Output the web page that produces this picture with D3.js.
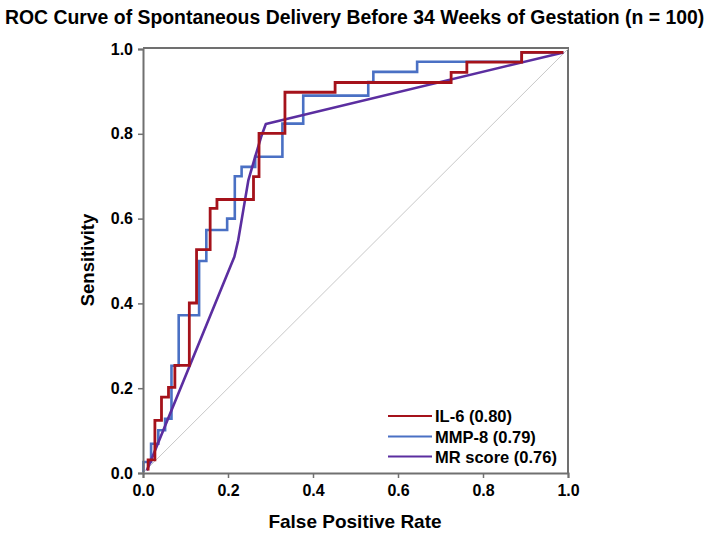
<!DOCTYPE html>
<html><head><meta charset="utf-8">
<script src="https://cdn.jsdelivr.net/npm/d3@7"></script>
<style>
body{margin:0;background:#fff;}
svg{display:block;font-family:"Liberation Sans",Arial,sans-serif;}
</style></head>
<body><svg id="c" width="714" height="537"></svg>
<script>
const titleText = "ROC Curve of Spontaneous Delivery Before 34 Weeks of Gestation (n = 100)";
const xLabel = "False Positive Rate";
const yLabel = "Sensitivity";
const tickValues = [0, 0.2, 0.4, 0.6, 0.8, 1.0];
const seriesNames = ["IL-6 (0.80)", "MMP-8 (0.79)", "MR score (0.76)"];
const seriesColors = ["#a5121b", "#4a70c4", "#5b2ea0"];

// IL-6 step curve corners (vertical then horizontal)
const il6Fpr  = [0.012,0.028,0.0435,0.060,0.075,0.109,0.126,0.158,0.174,0.260,0.273,0.334,0.452,0.725,0.762,0.891,0.989];
const il6Sens = [0.006,0.031,0.124,0.179,0.202,0.254,0.401,0.527,0.624,0.645,0.699,0.801,0.898,0.921,0.945,0.969,0.992];
// MMP-8 step curve corners
const mmpFpr  = [0.001,0.019,0.036,0.052,0.067,0.084,0.132,0.149,0.198,0.216,0.232,0.264,0.328,0.377,0.530,0.542,0.645,0.891,0.989];
const mmpSens = [0.002,0.026,0.069,0.101,0.128,0.253,0.372,0.500,0.573,0.600,0.700,0.722,0.746,0.824,0.890,0.922,0.946,0.970,0.992];
// MR score curve
const mrFpr  = [0.009,0.215,0.224,0.236,0.248,0.264,0.278,0.289,0.989];
const mrSens = [0.006,0.510,0.549,0.620,0.691,0.746,0.793,0.823,0.992];

const svg = d3.select("#c");
const x = d3.scaleLinear().domain([0,1]).range([143,568]);
const y = d3.scaleLinear().domain([0,1]).range([473,49]);

// frame top/right
svg.append("path")
  .attr("d", `M${x(0)},${y(1)-1}H${x(1)}V${y(0)}`)
  .attr("fill","none").attr("stroke","#707070").attr("stroke-width",2);

// diagonal
svg.append("line")
  .attr("x1",x(0)).attr("y1",y(0)).attr("x2",x(1)).attr("y2",y(1))
  .attr("stroke","#c8c8c8").attr("stroke-width",1);

const zip = (a,b)=>a.map((v,i)=>[v,b[i]]);
const stepLine = d3.line().x(d=>x(d[0])).y(d=>y(d[1])).curve(d3.curveStepBefore);
const linLine = d3.line().x(d=>x(d[0])).y(d=>y(d[1])).curve(d3.curveLinear);

svg.append("path").attr("d", stepLine(zip(mmpFpr,mmpSens)))
  .attr("fill","none").attr("stroke",seriesColors[1]).attr("stroke-width",2.6);
svg.append("path").attr("d", linLine(zip(mrFpr,mrSens)))
  .attr("fill","none").attr("stroke",seriesColors[2]).attr("stroke-width",2.6).attr("stroke-linejoin","round");
svg.append("path").attr("d", stepLine(zip(il6Fpr,il6Sens)))
  .attr("fill","none").attr("stroke",seriesColors[0]).attr("stroke-width",2.8);

// axes
const fmt = d3.format(".1f");
const gx = svg.append("g").attr("transform",`translate(0,${y(0)})`)
  .call(d3.axisBottom(x).tickValues(tickValues).tickFormat(fmt).tickSize(5).tickPadding(7));
const gy = svg.append("g").attr("transform",`translate(${x(0)},0)`)
  .call(d3.axisLeft(y).tickValues(tickValues).tickFormat(fmt).tickSize(5).tickPadding(5));
[gx,gy].forEach(g=>{
  g.select(".domain").attr("stroke","#707070").attr("stroke-width",2);
  g.selectAll(".tick line").attr("stroke","#707070").attr("stroke-width",1.5);
  g.selectAll(".tick text").attr("fill","#000").attr("font-size",16).attr("font-weight","bold")
   .attr("font-family","'Liberation Sans',Arial,sans-serif");
});

// title (horizontally condensed to fit the width, like the reference)
const title = svg.append("text").attr("x",0).attr("y",0)
  .attr("font-size",18).attr("font-weight","bold")
  .text(titleText);
const natW = title.node().getComputedTextLength();
const sx = 700 / natW;
title.attr("transform",`translate(5,24) scale(${sx},1.12)`);

// axis labels
svg.append("text").attr("x",355).attr("y",528).attr("text-anchor","middle")
  .attr("font-size",19).attr("font-weight","bold").text(xLabel);
svg.append("text").attr("transform","translate(94,260) rotate(-90)").attr("text-anchor","middle")
  .attr("font-size",18.5).attr("font-weight","bold").text(yLabel);

// legend
const leg = svg.append("g");
const rowY = [416, 436.5, 456.5];
seriesNames.forEach((n,i)=>{
  leg.append("line").attr("x1",388).attr("x2",432).attr("y1",rowY[i]).attr("y2",rowY[i])
    .attr("stroke",seriesColors[i]).attr("stroke-width",2);
  leg.append("text").attr("x",435).attr("y",rowY[i]+6)
    .attr("font-size",16.5).attr("font-weight","bold").text(n);
});
</script></body></html>
